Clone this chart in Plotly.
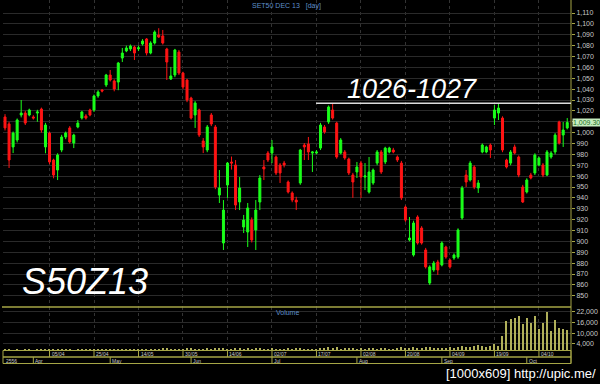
import pandas as pd
import plotly.graph_objects as go

# ---- trading calendar (SET, 2013) ----
holidays = ["2013-04-08", "2013-04-15", "2013-04-16", "2013-05-01", "2013-05-06",
            "2013-05-24", "2013-07-01", "2013-07-22", "2013-08-12"]
days = pd.bdate_range("2013-03-21", "2013-10-15")
days = days[~days.isin(pd.to_datetime(holidays))]
idx = list(range(len(days)))

# ---- daily OHLC of SET50 DEC 13 futures ----
open_ = [
    1014.4, 1008.0, 986.8, 993.2, 1016.2, 1018.0, 1016.2, 1014.4, 1018.0, 1021.7,
    986.8, 999.6, 974.8, 965.6, 984.0, 996.0, 1004.3, 990.4, 1005.2, 1013.4,
    1015.3, 1020.8, 1020.8, 1033.7, 1039.2, 1043.8, 1053.0, 1047.5, 1046.5, 1068.6,
    1075.1, 1076.9, 1078.7, 1077.0, 1081.5, 1086.1, 1073.2, 1082.4, 1089.8, 1088.9,
    1076.9, 1049.3, 1053.0, 1074.1, 1054.8, 1048.4, 1031.8, 1016.2, 1020.8, 992.3,
    984.0, 1016.2, 1005.2, 942.6, 898.5, 951.8, 973.0, 970.2, 936.2, 913.2,
    908.6, 919.6, 910.5, 936.2, 968.4, 981.2, 981.2, 977.6, 970.2, 972.0,
    954.6, 944.5, 938.0, 953.7, 988.6, 989.5, 981.2, 981.2, 985.8, 1005.2,
    1009.8, 1020.8, 1008.8, 981.2, 982.2, 975.7, 961.0, 963.8, 972.0, 959.2,
    945.4, 953.7, 972.0, 982.2, 973.0, 982.2, 984.0, 977.6, 972.0, 931.6,
    901.3, 887.5, 922.4, 912.3, 892.1, 861.7, 873.7, 881.0, 878.3, 894.8,
    882.9, 884.7, 885.6, 921.5, 961.0, 956.4, 968.4, 949.1, 982.2, 982.2,
    988.6, 1013.4, 1018.0, 1013.4, 974.8, 972.0, 986.8, 977.6, 950.0, 945.4,
    961.0, 962.9, 970.2, 970.2, 961.0, 977.6, 982.2, 1009.8, 997.8, 1004.3,
]
high = [
    1017.0, 1010.0, 1001.0, 1013.0, 1030.0, 1020.0, 1022.0, 1016.0, 1021.0, 1023.0,
    1009.0, 1001.0, 976.0, 981.0, 998.0, 1001.0, 1006.0, 999.0, 1011.6, 1020.0,
    1017.0, 1022.0, 1035.0, 1039.0, 1040.0, 1054.0, 1057.6, 1049.0, 1065.0, 1077.8,
    1080.0, 1081.0, 1080.0, 1080.0, 1086.0, 1087.0, 1084.0, 1094.0, 1096.0, 1094.4,
    1078.0, 1060.4, 1077.0, 1076.0, 1056.0, 1049.5, 1033.0, 1029.0, 1022.0, 995.0,
    1007.0, 1018.0, 1007.0, 965.6, 938.0, 973.0, 978.0, 974.8, 959.2, 924.3,
    935.3, 922.0, 938.0, 961.0, 974.8, 983.0, 993.2, 979.0, 972.0, 974.0,
    956.0, 946.0, 941.0, 985.0, 990.4, 996.0, 983.0, 984.0, 1009.0, 1007.0,
    1025.0, 1027.0, 1010.0, 995.0, 984.0, 977.0, 963.0, 973.0, 974.0, 972.0,
    977.6, 967.0, 984.0, 984.0, 987.0, 987.0, 986.0, 979.0, 974.0, 933.0,
    922.4, 919.0, 924.0, 914.0, 894.0, 878.0, 882.0, 883.0, 900.0, 896.0,
    884.0, 889.0, 912.0, 951.0, 965.6, 974.0, 970.0, 956.4, 990.0, 988.0,
    990.0, 1025.4, 1026.6, 1015.0, 976.0, 984.0, 989.0, 979.0, 952.0, 958.0,
    963.0, 981.0, 978.0, 972.0, 984.0, 983.0, 999.6, 1011.0, 1009.8, 1013.4,
]
low = [
    1002.0, 967.5, 981.2, 991.0, 1014.0, 1007.0, 1015.0, 1012.0, 1010.0, 1000.0,
    981.0, 971.0, 958.0, 956.4, 982.0, 994.0, 990.0, 985.8, 1004.0, 1012.0,
    1012.0, 1015.0, 1019.0, 1032.0, 1037.0, 1042.0, 1047.0, 1038.0, 1039.0, 1064.9,
    1074.0, 1075.0, 1066.8, 1075.0, 1080.0, 1071.0, 1072.0, 1081.0, 1087.0, 1081.0,
    1048.4, 1048.4, 1051.0, 1053.0, 1040.0, 1028.0, 1012.0, 1004.3, 996.0, 981.2,
    982.0, 1006.0, 948.0, 935.3, 892.1, 940.0, 966.0, 928.8, 928.8, 907.7,
    894.8, 899.0, 892.1, 928.8, 956.4, 973.0, 972.0, 961.0, 953.7, 968.0,
    944.0, 936.0, 928.8, 952.0, 974.8, 974.8, 963.8, 980.0, 984.0, 999.0,
    1008.0, 1012.0, 976.0, 980.0, 975.0, 961.0, 940.0, 958.3, 939.9, 947.2,
    944.0, 952.0, 970.0, 962.0, 971.0, 981.0, 981.0, 973.0, 938.0, 918.0,
    900.0, 886.0, 897.0, 897.0, 875.0, 859.9, 872.0, 869.1, 877.0, 884.0,
    875.0, 883.0, 884.0, 920.0, 950.0, 955.0, 948.0, 944.5, 981.0, 981.0,
    976.7, 1007.0, 1011.6, 982.0, 967.0, 970.0, 980.0, 959.0, 935.3, 944.0,
    957.0, 961.0, 969.0, 959.0, 960.0, 976.0, 980.0, 989.0, 986.8, 1003.0,
]
close = [
    1004.3, 974.8, 999.6, 1011.6, 1018.0, 1008.8, 1020.8, 1013.4, 1019.0, 1002.4,
    1007.0, 973.0, 961.0, 979.4, 996.0, 999.6, 991.4, 997.8, 1008.8, 1019.0,
    1013.4, 1016.2, 1033.7, 1037.4, 1038.3, 1053.0, 1048.4, 1040.1, 1064.0, 1073.2,
    1077.8, 1079.6, 1073.2, 1078.0, 1084.2, 1073.2, 1082.4, 1092.5, 1087.9, 1082.4,
    1064.9, 1052.1, 1076.0, 1054.8, 1041.9, 1030.0, 1013.4, 1027.2, 997.8, 986.8,
    1005.2, 1007.9, 950.0, 949.1, 928.8, 972.0, 972.0, 933.4, 949.1, 919.6,
    930.7, 901.3, 928.8, 958.3, 966.6, 974.8, 986.8, 962.9, 962.9, 970.2,
    945.4, 938.0, 936.2, 984.0, 986.8, 982.2, 982.2, 982.2, 1007.0, 1000.6,
    1023.6, 1013.4, 977.6, 993.2, 976.7, 962.9, 954.6, 968.4, 959.2, 960.2,
    963.8, 965.6, 982.2, 963.8, 985.8, 985.8, 982.2, 974.8, 939.9, 919.6,
    903.1, 916.9, 898.5, 898.5, 876.5, 876.5, 880.1, 873.7, 898.5, 885.6,
    876.5, 887.5, 910.5, 949.1, 954.6, 972.0, 950.0, 953.7, 988.6, 986.8,
    984.0, 1020.8, 1022.6, 984.0, 968.4, 982.2, 981.2, 961.0, 936.2, 956.4,
    958.3, 979.4, 976.7, 961.0, 982.2, 981.2, 997.8, 990.4, 1002.4, 1009.3,
]
volume = [
    620, 850, 540, 710, 480, 930, 660, 520, 780, 1050,
    690, 1240, 880, 970, 610, 730, 1120, 560, 840, 690,
    910, 1030, 760, 640, 1180, 820, 950, 700, 1260, 890,
    610, 980, 1140, 720, 850, 1320, 930, 780, 1060, 1410,
    1580, 990, 1230, 1370, 1120, 1490, 1640, 1050, 1380, 1190,
    1520, 1280, 1760, 1450, 1890, 1360, 1210, 1680, 1470, 1250,
    1590, 1330, 1440, 1710, 1180, 1290, 1560, 1370, 1230, 1120,
    1480, 1350, 1610, 1940, 1270, 1390, 1180, 1250, 1830, 1420,
    2150, 1560, 2080, 1340, 1470, 1690, 1520, 1380, 1750, 1290,
    1620, 1480, 1360, 1570, 1430, 1290, 1380, 1510, 2240, 1860,
    1620, 2010, 1730, 1580, 2120, 2460, 1790, 1650, 1880, 1720,
    2030, 1840, 2270, 2890, 2150, 2420, 2680, 3310, 2560, 2170,
    2940, 4000, 2600, 8300, 16700, 18200, 18600, 19500, 15400, 18600,
    15800, 19500, 12600, 15800, 21700, 11100, 17600, 13000, 12600, 12000,
]

price_ticks = list(range(850, 1111, 10))
volume_ticks = [4000, 10000, 16000, 22000]
resistance = 1027.0
resistance_label = "1026-1027"
symbol = "S50Z13"
title_text = "SET50 DEC 13\u00a0\u00a0\u00a0[day]"
year_label = "2556"

# date labels every 11 sessions, month boxes at first session of each month
date_idx = idx[11::11]
date_txt = [days[i].strftime("%d/%m") for i in date_idx]
month_idx, month_txt = [], []
for i in idx[1:]:
    if days[i].month != days[i - 1].month:
        month_idx.append(i)
        month_txt.append(days[i].strftime("%b"))

# ---- geometry (paper units) ----
W, H = 600, 384
def py(px):
    return 1 - px / H

X_LEFT, X_RIGHT = 3 / W, 571 / W
SPLIT = py(307)
VOL_BOTTOM = py(351)
ROW1_TOP, ROW1_BOT, ROW2_BOT = py(350.5), py(357), py(363.5)
YELLOW = "#a6a646"
FONT = "Liberation Sans, Arial, sans-serif"
LBL = "#c8c8c8"

fig = go.Figure()
fig.add_trace(go.Candlestick(
    x=idx, open=open_, high=high, low=low, close=close,
    increasing=dict(line=dict(color="#1aff1a", width=1), fillcolor="#1aff1a"),
    decreasing=dict(line=dict(color="#ff1414", width=1), fillcolor="#ff1414"),
    whiskerwidth=0, xaxis="x", yaxis="y", showlegend=False, hoverinfo="skip",
))
fig.add_trace(go.Bar(
    x=idx, y=volume, width=0.3, marker=dict(color="#b0b05a", line=dict(width=0)),
    xaxis="x2", yaxis="y2", showlegend=False, hoverinfo="skip",
))

x_common = dict(domain=[X_LEFT, X_RIGHT], range=[-0.5, 139.93], tickmode="array",
                tickvals=date_idx, showticklabels=False, ticks="", showgrid=True,
                gridcolor="#333333", griddash="dot", gridwidth=1, zeroline=False,
                showline=False)
y_common = dict(side="right", tickmode="array", tickformat=",d", ticks="outside",
                ticklen=3, tickcolor=YELLOW, tickfont=dict(size=7, color=LBL, family=FONT),
                showgrid=True, gridcolor="#2a2a2a", gridwidth=1, zeroline=False,
                showline=False)

fig.update_layout(
    width=W, height=H, margin=dict(l=0, r=0, t=0, b=0),
    paper_bgcolor="#000000", plot_bgcolor="#000000",
    font=dict(family=FONT, color=LBL),
    bargap=0,
    xaxis=dict(**x_common, anchor="y", rangeslider=dict(visible=False)),
    xaxis2=dict(**x_common, anchor="y2", matches="x"),
    yaxis=dict(**y_common, domain=[SPLIT, 1], range=[839.66, 1121.95],
               tickvals=price_ticks, anchor="x"),
    yaxis2=dict(**y_common, domain=[VOL_BOTTOM, SPLIT], range=[0, 24747],
                tickvals=volume_ticks, anchor="x2"),
)

shapes = []
# right axis line and panel separator
shapes.append(dict(type="line", xref="paper", yref="paper", x0=X_RIGHT, x1=X_RIGHT,
                   y0=ROW2_BOT, y1=1, line=dict(color=YELLOW, width=1)))
shapes.append(dict(type="line", xref="paper", yref="paper", x0=2 / W, x1=X_RIGHT,
                   y0=SPLIT, y1=SPLIT, line=dict(color=YELLOW, width=1.5)))
# resistance line
shapes.append(dict(type="line", xref="x", yref="y", x0=76.9, x1=139.93,
                   y0=resistance, y1=resistance, line=dict(color="#dcdcdc", width=1.5)))
# date label boxes
for y0, y1 in [(ROW1_BOT, ROW1_TOP), (ROW2_BOT, ROW1_BOT)]:
    shapes.append(dict(type="rect", xref="paper", yref="paper", x0=X_LEFT, x1=X_RIGHT,
                       y0=y0, y1=y1, line=dict(color=YELLOW, width=1)))
for i in date_idx:
    shapes.append(dict(type="line", xref="x", yref="paper", x0=i, x1=i,
                       y0=ROW1_BOT, y1=ROW1_TOP, line=dict(color=YELLOW, width=1)))
for i in month_idx:
    shapes.append(dict(type="line", xref="x", yref="paper", x0=i, x1=i,
                       y0=ROW2_BOT, y1=ROW1_BOT, line=dict(color=YELLOW, width=1)))
fig.update_layout(shapes=shapes)

ann = []
row1_c = py(353.5)
row2_c = py(360.5)
small = dict(size=5, color=LBL, family=FONT)
for i, t in zip(date_idx, date_txt):
    ann.append(dict(x=i, xref="x", y=row1_c, yref="paper", text=t, showarrow=False,
                    xanchor="left", yanchor="middle", xshift=1, borderpad=0, font=small))
ann.append(dict(x=X_LEFT, xref="paper", y=row2_c, yref="paper", text=year_label,
                showarrow=False, xanchor="left", yanchor="middle", xshift=2,
                borderpad=0, font=small))
for i, t in zip(month_idx, month_txt):
    ann.append(dict(x=i, xref="x", y=row2_c, yref="paper", text=t, showarrow=False,
                    xanchor="left", yanchor="middle", xshift=1, borderpad=0, font=small))

centered = dict(xref="paper", yref="paper", showarrow=False,
                xanchor="center", yanchor="middle")
ann += [
    dict(**centered, x=286.5 / W, y=py(6), text=title_text,
         font=dict(size=7, color="#5d8fc9", family=FONT)),
    dict(**centered, x=287 / W, y=py(312), text="Volume",
         font=dict(size=7, color="#5d8fc9", family=FONT)),
    dict(**centered, x=412 / W, y=py(89), text="<i>" + resistance_label + "</i>",
         font=dict(size=27, color="#ffffff", family=FONT)),
    dict(**centered, x=85 / W, y=py(281.5), text="<i>" + symbol + "</i>",
         font=dict(size=36, color="#ffffff", family=FONT)),
    dict(x=572 / W, xref="paper", y=close[-1], yref="y",
         text=f"{close[-1]:,.2f}", showarrow=False, xanchor="left", yanchor="middle",
         bgcolor="#c6eec0", borderpad=0, font=dict(size=7, color="#1e6e1e", family=FONT)),
    dict(x=598 / W, y=py(373), xref="paper", yref="paper", xanchor="right",
         yanchor="middle", text="[1000x609] http://upic.me/", showarrow=False,
         font=dict(size=13, color="#ffffff", family=FONT)),
]
fig.update_layout(annotations=ann)

fig.write_html("out.html")
